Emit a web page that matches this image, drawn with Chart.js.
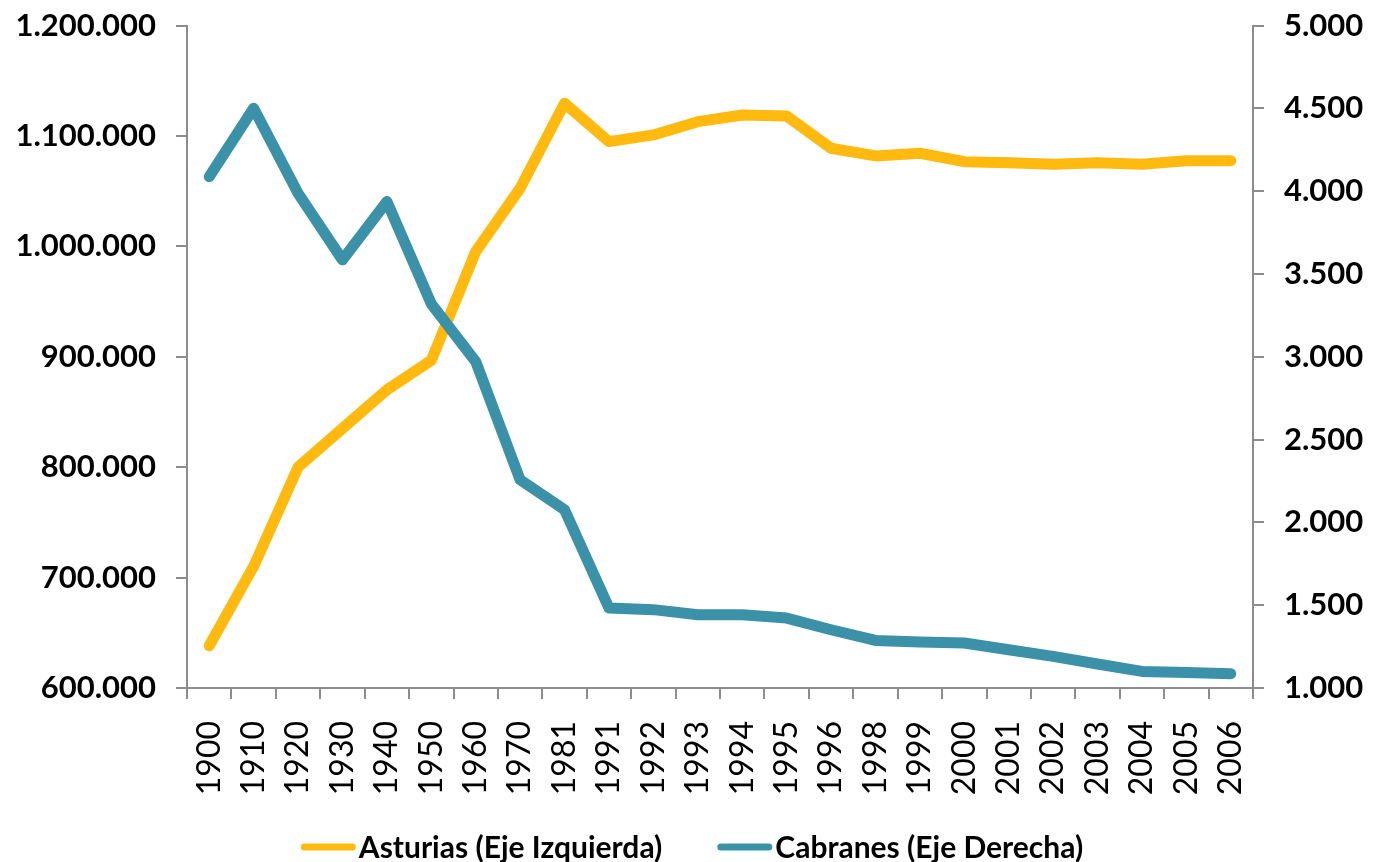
<!DOCTYPE html>
<html>
<head>
<meta charset="utf-8">
<script src="https://cdn.jsdelivr.net/npm/chart.js@4.4.1/dist/chart.umd.min.js"></script>
<style>
  html, body { margin: 0; padding: 0; background: #ffffff; }
  #wrap { width: 1376px; height: 862px; }
</style>
</head>
<body>
<div id="wrap"><canvas id="c" width="1376" height="862"></canvas></div>
<script>
// ---- data ----
const years = ['1900','1910','1920','1930','1940','1950','1960','1970','1981','1991','1992','1993','1994','1995','1996','1998','1999','2000','2001','2002','2003','2004','2005','2006'];
const asturias = [638300, 710100, 800000, 835000, 870000, 896700, 995200, 1052600, 1129600, 1094800, 1100900, 1112900, 1119000, 1118100, 1088800, 1081900, 1084300, 1076700, 1075800, 1074300, 1075800, 1074300, 1077600, 1077600];
const cabranes = [4087, 4500, 3987, 3585, 3937, 3319, 2971, 2257, 2076, 1483, 1473, 1442, 1442, 1422, 1352, 1287, 1278, 1272, 1231, 1191, 1145, 1100, 1094, 1086];
const seriesNames = ['Asturias (Eje Izquierda)', 'Cabranes (Eje Derecha)'];
const leftAxisRange = [600000, 1200000, 100000];
const rightAxisRange = [1000, 5000, 500];

// ---- style ----
const YELLOW = '#FFB90F';
const TEAL = '#3A91A8';
const AXIS = '#8C8C8C';
const fmt = v => String(Math.round(v)).replace(/\B(?=(\d{3})+(?!\d))/g, '.');

// bottom legend drawn from the chart's own datasets
const bottomLegend = {
  id: 'bottomLegend',
  afterDraw(chart) {
    const ctx = chart.ctx;
    const ds = chart.data.datasets;
    const lineLen = 55, gapText = 3, gapItem = 55, y = 847;
    ctx.save();
    ctx.font = 'bold 30px Lato';
    ctx.textBaseline = 'middle';
    ctx.textAlign = 'left';
    const widths = ds.map(d => ctx.measureText(d.label).width);
    let total = 0;
    widths.forEach((w, i) => { total += lineLen + gapText + w + (i < widths.length - 1 ? gapItem : 0); });
    let x = (chart.width - total) / 2 + 4;
    ds.forEach((d, i) => {
      ctx.strokeStyle = d.borderColor;
      ctx.lineWidth = 7;
      ctx.lineCap = 'round';
      ctx.beginPath();
      ctx.moveTo(x + 3.5, y);
      ctx.lineTo(x + lineLen - 3.5, y);
      ctx.stroke();
      ctx.fillStyle = '#000000';
      ctx.fillText(d.label, x + lineLen + gapText, y + 1);
      x += lineLen + gapText + widths[i] + gapItem;
    });
    ctx.restore();
  }
};

new Chart(document.getElementById('c'), {
  type: 'line',
  data: {
    labels: years,
    datasets: [
      {
        label: seriesNames[0],
        data: asturias,
        yAxisID: 'yL',
        borderColor: YELLOW,
        backgroundColor: YELLOW,
        borderWidth: 11,
        pointRadius: 0,
        pointHoverRadius: 0,
        tension: 0,
        borderCapStyle: 'round',
        borderJoinStyle: 'round',
        order: 2
      },
      {
        label: seriesNames[1],
        data: cabranes,
        yAxisID: 'yR',
        borderColor: TEAL,
        backgroundColor: TEAL,
        borderWidth: 11,
        pointRadius: 0,
        pointHoverRadius: 0,
        tension: 0,
        borderCapStyle: 'round',
        borderJoinStyle: 'round',
        order: 1
      }
    ]
  },
  options: {
    responsive: false,
    animation: false,
    devicePixelRatio: 1,
    layout: { padding: { top: 25.5, left: 0, right: 0, bottom: 54 } },
    plugins: {
      tooltip: { enabled: false },
      legend: { display: false }
    },
    scales: {
      x: {
        type: 'category',
        offset: true,
        grid: { display: true, drawOnChartArea: false, offset: true, tickLength: 11, color: AXIS, lineWidth: 2 },
        border: { display: true, color: AXIS, width: 2 },
        ticks: {
          autoSkip: false,
          maxRotation: 90,
          minRotation: 90,
          padding: 22,
          color: '#000000',
          font: { family: 'Lato', size: 32 }
        },
        afterFit(s) { s.height = 120; s.paddingLeft = 0; s.paddingRight = 0; }
      },
      yL: {
        type: 'linear',
        position: 'left',
        min: leftAxisRange[0],
        max: leftAxisRange[1],
        grid: { display: true, drawOnChartArea: false, tickLength: 11, color: AXIS, lineWidth: 2 },
        border: { display: true, color: AXIS, width: 2 },
        ticks: {
          stepSize: leftAxisRange[2],
          padding: 20,
          color: '#000000',
          font: { family: 'Lato', weight: 'bold', size: 31 },
          callback: v => fmt(v)
        },
        afterFit(s) { s.width = 187; s.paddingTop = 0; s.paddingBottom = 0; }
      },
      yR: {
        type: 'linear',
        position: 'right',
        min: rightAxisRange[0],
        max: rightAxisRange[1],
        grid: { display: true, drawOnChartArea: false, tickLength: 11, color: AXIS, lineWidth: 2 },
        border: { display: true, color: AXIS, width: 2 },
        ticks: {
          stepSize: rightAxisRange[2],
          padding: 20,
          color: '#000000',
          font: { family: 'Lato', weight: 'bold', size: 31 },
          callback: v => fmt(v)
        },
        afterFit(s) { s.width = 123; s.paddingTop = 0; s.paddingBottom = 0; }
      }
    }
  },
  plugins: [bottomLegend]
});
</script>
</body>
</html>
